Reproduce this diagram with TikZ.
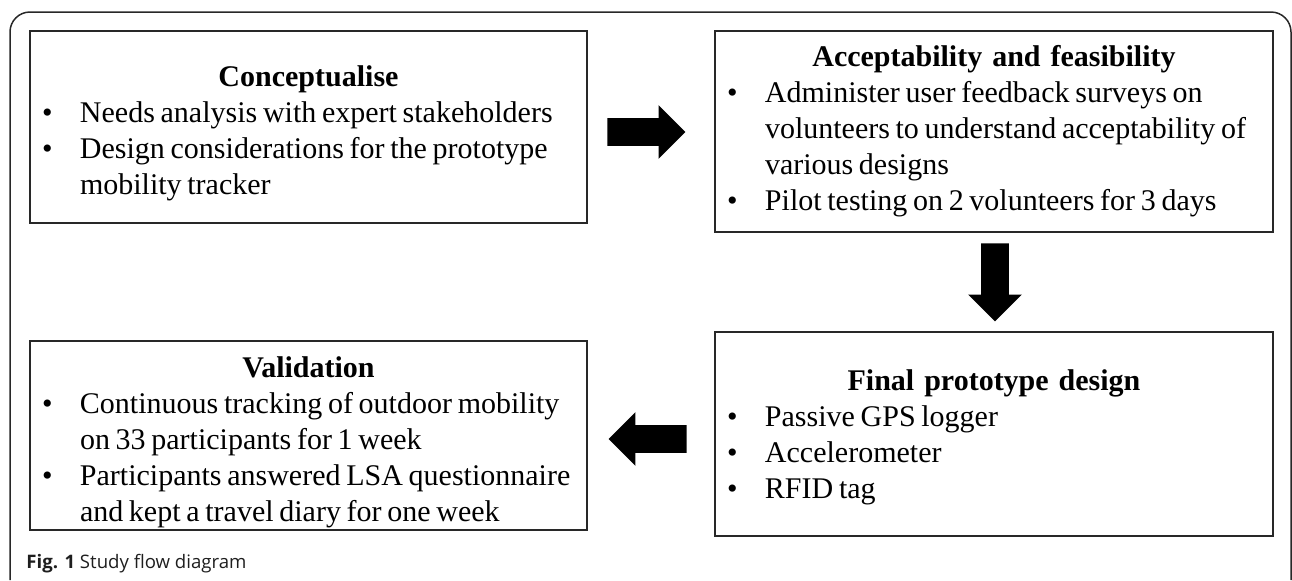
\documentclass[tikz,border=0pt]{standalone}
\usepackage{fontspec}
\setmainfont{Liberation Serif}
\newfontfamily\capfont{Open Sans}
\usepackage{tikz}
\usetikzlibrary{shapes.arrows}
\definecolor{boxline}{RGB}{40,40,40}
\definecolor{captiongray}{RGB}{30,30,30}
\newcommand{\bitem}[1]{\par\noindent\raggedright\spaceskip=0.19em plus 0.1em\relax\hangindent=25pt\hangafter=1\hspace*{6pt}\makebox[19pt][l]{\textbullet}#1\par}
\newcommand{\boxtitle}[2][10pt]{{\centering\bfseries\rule{0pt}{#1}#2\par}}

\begin{document}
\begin{tikzpicture}[x=0.5pt,y=-0.5pt,
  stagebox/.style={rectangle,draw=boxline,line width=0.65pt,fill=white,inner xsep=0pt,inner ysep=0pt,text width=278.5pt,align=left,font=\fontsize{15pt}{18pt}\selectfont},
  blockarrow/.style={single arrow,fill=black,draw=none,inner xsep=0pt,inner ysep=6.75pt,minimum height=39pt,single arrow head extend=6.5pt,single arrow tip angle=90,anchor=tip},
  frameline/.style={draw=boxline,line width=0.75pt,rounded corners=10pt},
  captext/.style={anchor=base west,inner sep=0pt,text=captiongray,font=\capfont\fontsize{9.3pt}{11pt}\selectfont}
]
\useasboundingbox (0,0) rectangle (1292,580);
\draw[frameline] (10,580) -- (10,12) -- (1291,12) -- (1291,580);
\node[stagebox,minimum height=96pt] (concept) at (308.5,127) {\boxtitle[16.3pt]{Conceptualise}\bitem{Needs analysis with expert stakeholders}\bitem{Design considerations for the prototype\newline mobility tracker}};
\node[stagebox,text width=279pt,minimum height=100.5pt] (accept) at (994,131.5) {\boxtitle{Acceptability and feasibility}\bitem{Administer user feedback surveys on\newline volunteers to understand acceptability of\newline various designs}\bitem{Pilot testing on 2 volunteers for 3 days}};
\node[stagebox,text width=279pt,minimum height=102pt] (final) at (994,434) {\boxtitle[13.3pt]{Final prototype design}\bitem{Passive GPS logger}\bitem{Accelerometer}\bitem{RFID tag}};
\node[stagebox,minimum height=94.5pt] (valid) at (308.5,435.5) {\boxtitle[17.3pt]{Validation}\bitem{Continuous tracking of outdoor mobility\newline on 33 participants for 1 week}\bitem{Participants answered LSA questionnaire\newline and kept a travel diary for one week}};
\node[blockarrow] (toaccept) at (686,132) {};
\node[blockarrow,rotate=-90] (tofinal) at (995,322) {};
\node[blockarrow,rotate=180] (tovalid) at (608,439) {};
\node[captext] (caption) at (26,568) {\textbf{Fig. 1} Study flow diagram};
\end{tikzpicture}
\end{document}
